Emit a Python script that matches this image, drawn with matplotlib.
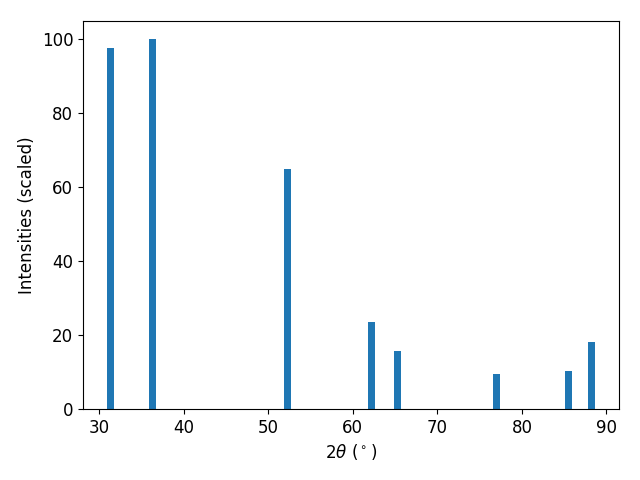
import matplotlib
matplotlib.use("Agg")
import matplotlib.pyplot as plt

two_theta = [31.37, 36.3, 52.25, 62.2, 65.3, 76.98, 85.5, 88.2]
intensity = [97.6, 100.0, 65.0, 23.6, 15.7, 9.5, 10.3, 18.2]

plt.rcParams['font.size'] = 12
fig, ax = plt.subplots(figsize=(6.4, 4.8), dpi=100)
ax.bar(two_theta, intensity, width=0.8, color='#1f77b4')
ax.set_xlabel(r'$2\theta$ ($^\circ$)')
ax.set_ylabel('Intensities (scaled)')
fig.subplots_adjust(left=83/640, right=619/640, top=1-21/480, bottom=1-409/480)
fig.savefig('out.png', dpi=100)
